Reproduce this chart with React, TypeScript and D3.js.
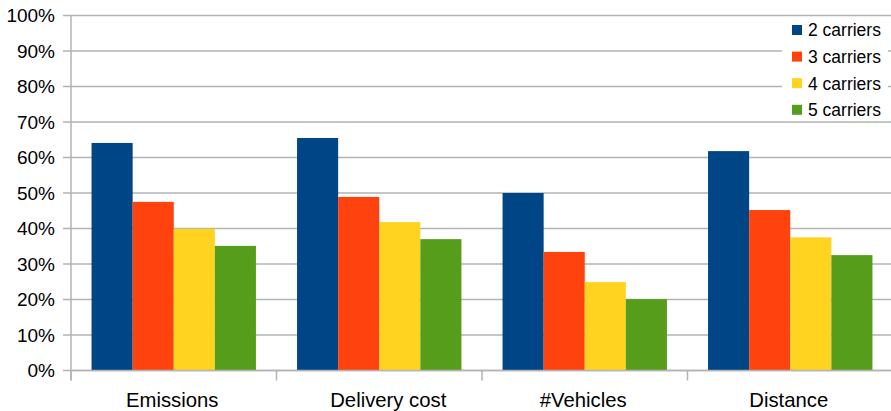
import React from "react";
import * as d3 from "d3";

const categories = ["Emissions", "Delivery cost", "#Vehicles", "Distance"];
const seriesNames = ["2 carriers", "3 carriers", "4 carriers", "5 carriers"];
const carriers2 = [64.1, 65.5, 50.0, 61.8];
const carriers3 = [47.5, 48.9, 33.4, 45.2];
const carriers4 = [39.9, 41.8, 24.9, 37.5];
const carriers5 = [35.1, 37.0, 20.1, 32.5];
const yTicks = [0, 10, 20, 30, 40, 50, 60, 70, 80, 90, 100];
const colors = ["#004586", "#ff420e", "#ffd320", "#579d1c"];

const series = [carriers2, carriers3, carriers4, carriers5];

export default function App() {
  const W = 891, H = 411;
  const left = 71, right = 893, top = 15.5, bottom = 370.5;
  const x = d3.scaleBand<string>().domain(categories).range([left, right]).paddingInner(0).paddingOuter(0);
  const x1 = d3.scaleBand<string>().domain(seriesNames).range([0, x.bandwidth()]).paddingInner(0).paddingOuter(0.5);
  const y = d3.scaleLinear().domain([0, 100]).range([bottom, top]);
  const font = "'Liberation Sans', Arial, sans-serif";
  const grid = "#b3b3b3";
  const tickPositions = d3.range(categories.length + 1).map(i => left + i * x.step());
  const labelShift = (i: number) => (i === 1 ? 9 : -1.5);

  return (
    <svg width={W} height={H} style={{ position: "absolute", left: 0, top: 0, background: "#fff" }}>
      {yTicks.map(t => (
        <g key={t}>
          <line x1={left - 8} x2={right} y1={y(t)} y2={y(t)} stroke={grid} strokeWidth={1.3} />
          <text x={55} y={y(t)} dy="0.36em" textAnchor="end" fontFamily={font} fontSize={19} fill="#000">{t}%</text>
        </g>
      ))}
      {categories.map((c, ci) =>
        series.map((vals, si) => (
          <rect key={c + si} x={(x(c) as number) + (x1(seriesNames[si]) as number)} y={y(vals[ci])}
            width={x1.bandwidth()} height={bottom - y(vals[ci])} fill={colors[si]} />
        ))
      )}
      <line x1={left} x2={left} y1={top} y2={bottom + 10} stroke={grid} strokeWidth={1.5} />
      {tickPositions.map((p, i) => (
        <line key={i} x1={p} x2={p} y1={bottom} y2={bottom + 10} stroke={grid} strokeWidth={1.5} />
      ))}
      <line x1={left} x2={right} y1={bottom} y2={bottom} stroke={grid} strokeWidth={1.5} />
      {categories.map((c, i) => (
        <text key={c} x={(x(c) as number) + x.bandwidth() / 2 + labelShift(i)} y={407} textAnchor="middle" fontFamily={font} fontSize={20.3} fill="#000">{c}</text>
      ))}
      <rect x={782} y={17} width={106} height={104} fill="#fff" />
      {seriesNames.map((s, i) => (
        <g key={s} transform={`translate(792, ${30 + i * 26.6})`}>
          <rect x={0} y={-5} width={10} height={10} fill={colors[i]} />
          <text x={16} y={0} dy="0.36em" fontFamily={font} fontSize={17.5} fill="#000">{s}</text>
        </g>
      ))}
    </svg>
  );
}
